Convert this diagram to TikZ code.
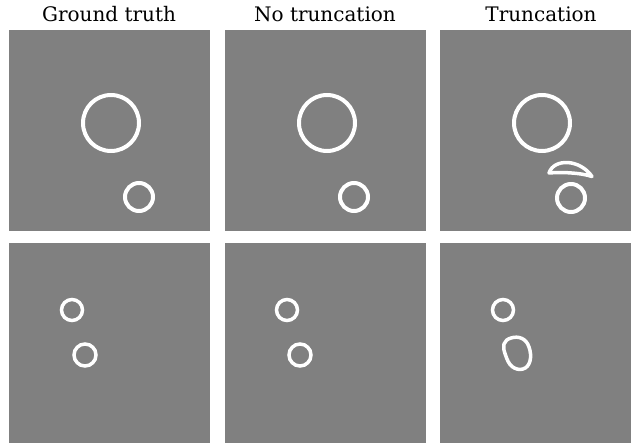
\documentclass[tikz,border=0pt]{standalone}
\usepackage{fontspec}
\setmainfont{DejaVu Serif}
\definecolor{panelgray}{RGB}{128,128,128}
\begin{document}
\begin{tikzpicture}[x=1pt,y=-1pt,
  panel/.style={fill=panelgray,draw=none},
  ring/.style={draw=white,line width=4pt},
  thinring/.style={draw=white,line width=3.5pt},
  title/.style={font=\fontsize{20}{22}\selectfont,anchor=base}]
\useasboundingbox (0,0) rectangle (631,443);
\fill[white] (0,0) rectangle (631,443);
% panels
\fill[panel] (9,30) rectangle (210,231);
\fill[panel] (225,30) rectangle (426,231);
\fill[panel] (440,30) rectangle (631,231);
\fill[panel] (9,243) rectangle (210,443);
\fill[panel] (225,243) rectangle (426,443);
\fill[panel] (440,243) rectangle (631,443);
% titles
\node[title] (t1) at (109,22) {Ground truth};
\node[title] (t2) at (325,22) {No truncation};
\node[title] (t3) at (541,22) {Truncation};
% row 1
\draw[ring] (111,123) circle[radius=28];
\draw[ring] (139,197) circle[radius=14];
\draw[ring] (327,123) circle[radius=28];
\draw[ring] (354,197) circle[radius=14];
\draw[ring] (542,123) circle[radius=28];
\draw[ring] (571,198) circle[radius=14];
\draw[draw=white,line width=3.5pt,line join=round]
  (549,173) .. controls (554,158) and (580,159) .. (592,176.5)
  .. controls (580,172.5) and (560,172) .. cycle;
% row 2
\draw[thinring] (72,310) circle[radius=10.5];
\draw[thinring] (85,355) circle[radius=11];
\draw[thinring] (287,310) circle[radius=10.5];
\draw[thinring] (300,355) circle[radius=11];
\draw[thinring] (503,310) circle[radius=10.5];
\draw[thinring] plot[smooth cycle,tension=0.7] coordinates
  {(504,344) (511,338) (522,338.5) (529,347) (530,361) (523,369) (512,366.5) (505.5,355)};
\end{tikzpicture}
\end{document}
